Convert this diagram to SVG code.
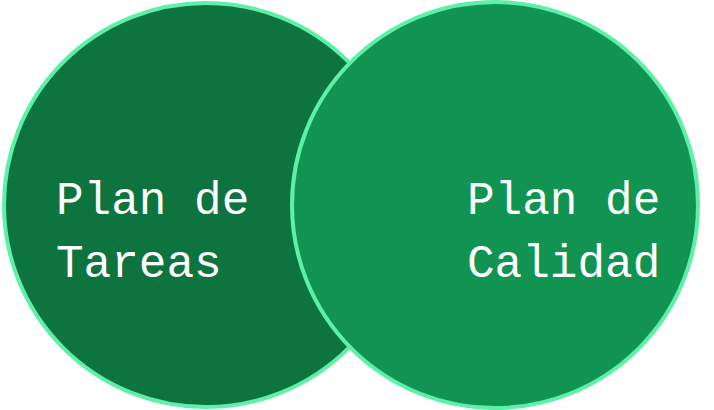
<svg xmlns="http://www.w3.org/2000/svg" width="714" height="410" viewBox="0 0 714 410">
<style>
.c{stroke:#5ef0a8;stroke-width:4}
.t{font-family:"Liberation Mono","DejaVu Sans Mono",monospace;font-size:46px;fill:#ffffff}
</style>
<rect width="714" height="410" fill="#ffffff"/>
<g id="tareas">
<circle class="c" cx="206" cy="205" r="202" fill="#0d7440"/>
<text class="t" x="56" y="214">Plan de</text>
<text class="t" x="56" y="277">Tareas</text>
</g>
<g id="calidad">
<circle class="c" cx="495" cy="205" r="203" fill="#119452"/>
<text class="t" x="467" y="214">Plan de</text>
<text class="t" x="467" y="277">Calidad</text>
</g>
<g id="connectors"/>
</svg>
